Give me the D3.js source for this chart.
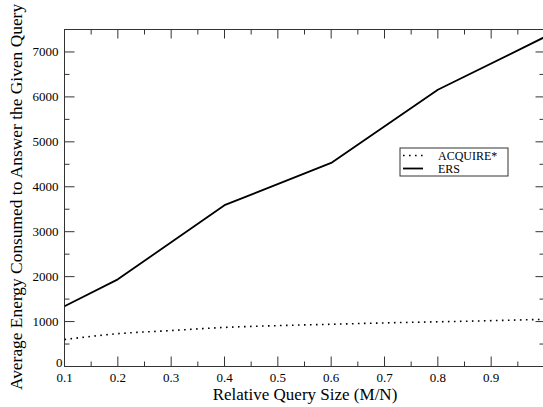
<!DOCTYPE html>
<html>
<head>
<meta charset="utf-8">
<script src="https://cdn.jsdelivr.net/npm/d3@7"></script>
<style>
  html, body { margin: 0; padding: 0; background: #fff; }
  svg { display: block; }
  svg text { font-family: "Liberation Serif", "DejaVu Serif", Times, serif !important; }
</style>
</head>
<body>
<svg id="chart" width="543" height="407"></svg>
<script>
// Query size (fraction M/N) and average energy per query
const ersX = [0.1, 0.2, 0.4, 0.6, 0.8, 1.0];
const ersY = [1340, 1940, 3590, 4530, 6160, 7330];

const acqX = [0.1, 0.2, 0.3, 0.4, 0.5, 0.6, 0.7, 0.8, 0.9, 1.0];
const acqY = [600, 730, 800, 870, 910, 940, 970, 995, 1020, 1050];

const xTicks = [0.1, 0.2, 0.3, 0.4, 0.5, 0.6, 0.7, 0.8, 0.9];
const yTicks = [0, 1000, 2000, 3000, 4000, 5000, 6000, 7000];

const seriesNames = ["ACQUIRE*", "ERS"];

const svg = d3.select("#chart");
const plotLeft = 64.5, plotRight = 544.5, plotTop = 29.5, plotBottom = 366.5;

const x = d3.scaleLinear().domain([0.1, 1.0]).range([plotLeft, plotRight]);
const y = d3.scaleLinear().domain([0, 7500]).range([plotBottom, plotTop]);

const g = svg.append("g");
const axisColor = "#333";

// Major ticks with labels, plus minor ticks on every side
const xMinor = d3.range(0.15, 1.0, 0.1);
const yMinor = d3.range(500, 7500, 1000);

function tickLines(sel, vals, fn) {
  sel.selectAll(null).data(vals).enter().append("line")
    .each(function(d) {
      const c = fn(d);
      d3.select(this).attr("x1", c[0]).attr("y1", c[1]).attr("x2", c[2]).attr("y2", c[3]);
    })
    .attr("stroke", axisColor).attr("stroke-width", 1);
}
tickLines(g, xTicks, d => [x(d), plotBottom, x(d), plotBottom - 10]);
tickLines(g, xMinor, d => [x(d), plotBottom, x(d), plotBottom - 5]);
tickLines(g, xTicks, d => [x(d), plotTop, x(d), plotTop + 9]);
tickLines(g, xMinor, d => [x(d), plotTop, x(d), plotTop + 5]);
tickLines(g, yTicks, d => [plotLeft, y(d), plotLeft + 10, y(d)]);
tickLines(g, yMinor, d => [plotLeft, y(d), plotLeft + 5, y(d)]);
tickLines(g, yTicks, d => [plotRight, y(d), plotRight - 9, y(d)]);
tickLines(g, yMinor, d => [plotRight, y(d), plotRight - 5, y(d)]);

// Frame
g.append("rect")
  .attr("x", plotLeft).attr("y", plotTop)
  .attr("width", plotRight - plotLeft).attr("height", plotBottom - plotTop)
  .attr("fill", "none").attr("stroke", axisColor).attr("stroke-width", 1);

// Tick labels
g.selectAll(".xl").data(xTicks).enter().append("text")
  .attr("x", d => x(d)).attr("y", plotBottom + 15)
  .attr("text-anchor", "middle").attr("font-size", 13)
  .text(d => d3.format(".1f")(d));

g.selectAll(".yl").data(yTicks).enter().append("text")
  .attr("x", d => d === 0 ? plotLeft - 2 : plotLeft - 6)
  .attr("y", d => d === 0 ? y(d) + 0.5 : y(d) + 4.5)
  .attr("text-anchor", "end").attr("font-size", 13)
  .text(d => d);

// Axis titles
g.append("text")
  .attr("x", 305).attr("y", 399.5)
  .attr("text-anchor", "middle").attr("font-size", 17)
  .text("Relative Query Size (M/N)");

g.append("text")
  .attr("transform", "translate(22,197) rotate(-90)")
  .attr("text-anchor", "middle").attr("font-size", 17.4)
  .text("Average Energy Consumed to Answer the Given Query");

// Series
svg.append("clipPath").attr("id", "plot-clip")
  .append("rect").attr("x", plotLeft).attr("y", plotTop)
  .attr("width", plotRight - plotLeft).attr("height", plotBottom - plotTop);

const acqLine = d3.line().x(d => x(d[0])).y(d => y(d[1])).curve(d3.curveMonotoneX);
const ersLine = d3.line().x(d => x(d[0])).y(d => y(d[1]));

g.append("path")
  .datum(d3.zip(acqX, acqY))
  .attr("d", acqLine)
  .attr("clip-path", "url(#plot-clip)")
  .attr("fill", "none").attr("stroke", "#000")
  .attr("stroke-width", 1.6).attr("stroke-dasharray", "1.6,4.4");

g.append("path")
  .datum(d3.zip(ersX, ersY))
  .attr("d", ersLine)
  .attr("clip-path", "url(#plot-clip)")
  .attr("fill", "none").attr("stroke", "#000")
  .attr("stroke-width", 1.8).attr("stroke-linejoin", "round");

// Legend
const lg = g.append("g").attr("transform", "translate(400,148)");
lg.append("rect").attr("width", 108).attr("height", 28)
  .attr("fill", "#fff").attr("stroke", axisColor).attr("stroke-width", 1);
const dashes = ["1.6,4.4", null];
seriesNames.forEach((name, i) => {
  const yy = 7.5 + i * 13;
  lg.append("line").attr("x1", 3).attr("x2", 23).attr("y1", yy).attr("y2", yy)
    .attr("stroke", "#000").attr("stroke-width", i === 0 ? 1.6 : 1.8)
    .attr("stroke-dasharray", dashes[i]);
  lg.append("text")
    .attr("x", 38).attr("y", yy + 4)
    .attr("font-size", 12).text(name);
});
</script>
</body>
</html>
